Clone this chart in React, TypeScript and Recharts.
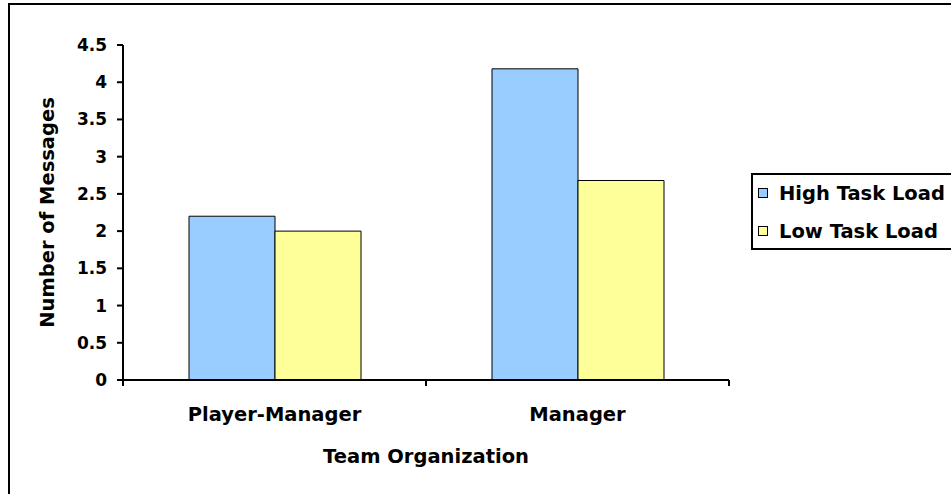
import React from 'react'
import { BarChart, Bar, XAxis, YAxis, Legend, Label } from 'recharts'

const categories = ['Player-Manager', 'Manager']
const highTaskLoad = [2.2, 4.18]
const lowTaskLoad = [2.0, 2.68]
const yTicks = [0, 0.5, 1, 1.5, 2, 2.5, 3, 3.5, 4, 4.5]
const seriesNames = ['High Task Load', 'Low Task Load']

const COLORS = ['#99ccff', '#ffff99']
const FONT = '"DejaVu Sans", sans-serif'
const TITLE_SIZE = 19.5

const data = categories.map((name, i) => ({
  name,
  high: highTaskLoad[i],
  low: lowTaskLoad[i],
}))

const CategoryTick = (props: any) => {
  const { x, y, payload, index, visibleTicksCount } = props
  const half = payload?.offset ?? 151.5
  const top = y - 30
  const last = (visibleTicksCount ?? categories.length) - 1
  return (
    <g>
      <line x1={x - half} x2={x - half} y1={top} y2={top + 6} stroke="#000" strokeWidth={2} />
      {index === last && (
        <line x1={x + half} x2={x + half} y1={top} y2={top + 6} stroke="#000" strokeWidth={2} />
      )}
      <text
        x={x}
        y={y + 11}
        textAnchor="middle"
        fill="#000"
        fontFamily={FONT}
        fontWeight="bold"
        fontSize={TITLE_SIZE}
      >
        {payload.value}
      </text>
    </g>
  )
}

const renderLegend = (props: any) => {
  const items = props.payload ?? []
  return (
    <div
      style={{
        position: 'relative',
        width: 258,
        height: 73,
        border: '2px solid #000',
        background: '#fff',
        fontFamily: FONT,
        fontWeight: 'bold',
        fontSize: TITLE_SIZE,
      }}
    >
      {items.map((item: any, i: number) => (
        <div
          key={`legend-${i}`}
          style={{
            position: 'absolute',
            left: 5,
            top: 7 + i * 38,
            height: 22,
            display: 'flex',
            alignItems: 'center',
            whiteSpace: 'nowrap',
          }}
        >
          <span
            style={{
              display: 'inline-block',
              width: 8,
              height: 8,
              border: '1px solid #000',
              background: item.color,
              marginRight: 11,
            }}
          />
          <span>{item.value}</span>
        </div>
      ))}
    </div>
  )
}

export default function App() {
  return (
    <div
      style={{
        position: 'fixed',
        left: 0,
        top: 0,
        width: 951,
        height: 494,
        overflow: 'hidden',
        background: '#fff',
      }}
    >
      <div
        style={{
          position: 'absolute',
          left: 8,
          top: 3,
          width: 1000,
          height: 540,
          border: '2px solid #000',
        }}
      >
        <BarChart
          width={1000}
          height={540}
          data={data}
          margin={{ top: 40, right: 281, left: 0, bottom: 65 }}
          barGap={0}
          barSize={86}
        >
          <XAxis
            dataKey="name"
            height={100}
            axisLine={{ stroke: '#000', strokeWidth: 2 }}
            tickLine={false}
            tickSize={6}
            tickMargin={24}
            tick={<CategoryTick />}
            interval={0}
          >
            <Label
              content={(p: any) => {
                const vb = p.viewBox ?? { x: 113, y: 375, width: 606, height: 100 }
                return (
                  <text
                    x={vb.x + vb.width / 2}
                    y={vb.y + 83}
                    textAnchor="middle"
                    fill="#000"
                    fontFamily={FONT}
                    fontWeight="bold"
                    fontSize={TITLE_SIZE}
                  >
                    Team Organization
                  </text>
                )
              }}
            />
          </XAxis>
          <YAxis
            width={113}
            domain={[0, 4.5]}
            ticks={yTicks}
            interval={0}
            axisLine={{ stroke: '#000', strokeWidth: 2 }}
            tickLine={{ stroke: '#000', strokeWidth: 2 }}
            tickSize={6}
            tickMargin={10}
            tick={{ fill: '#000', fontFamily: FONT, fontWeight: 'bold', fontSize: 17 }}
          >
            <Label
              content={(p: any) => {
                const vb = p.viewBox ?? { x: 0, y: 40, width: 113, height: 335 }
                const cx = vb.x + 37.5
                const cy = vb.y + vb.height / 2
                return (
                  <text
                    x={cx}
                    y={cy}
                    transform={`rotate(-90, ${cx}, ${cy})`}
                    textAnchor="middle"
                    dominantBaseline="central"
                    fill="#000"
                    fontFamily={FONT}
                    fontWeight="bold"
                    fontSize={TITLE_SIZE}
                  >
                    Number of Messages
                  </text>
                )
              }}
            />
          </YAxis>
          <Legend
            layout="horizontal"
            align="center"
            verticalAlign="middle"
            content={renderLegend}
            wrapperStyle={{ position: 'absolute', left: 741, top: 168, width: 262, height: 77 }}
          />
          <Bar
            dataKey="high"
            name={seriesNames[0]}
            fill={COLORS[0]}
            stroke="#000"
            strokeWidth={1}
            isAnimationActive={false}
          />
          <Bar
            dataKey="low"
            name={seriesNames[1]}
            fill={COLORS[1]}
            stroke="#000"
            strokeWidth={1}
            isAnimationActive={false}
          />
        </BarChart>
      </div>
    </div>
  )
}
